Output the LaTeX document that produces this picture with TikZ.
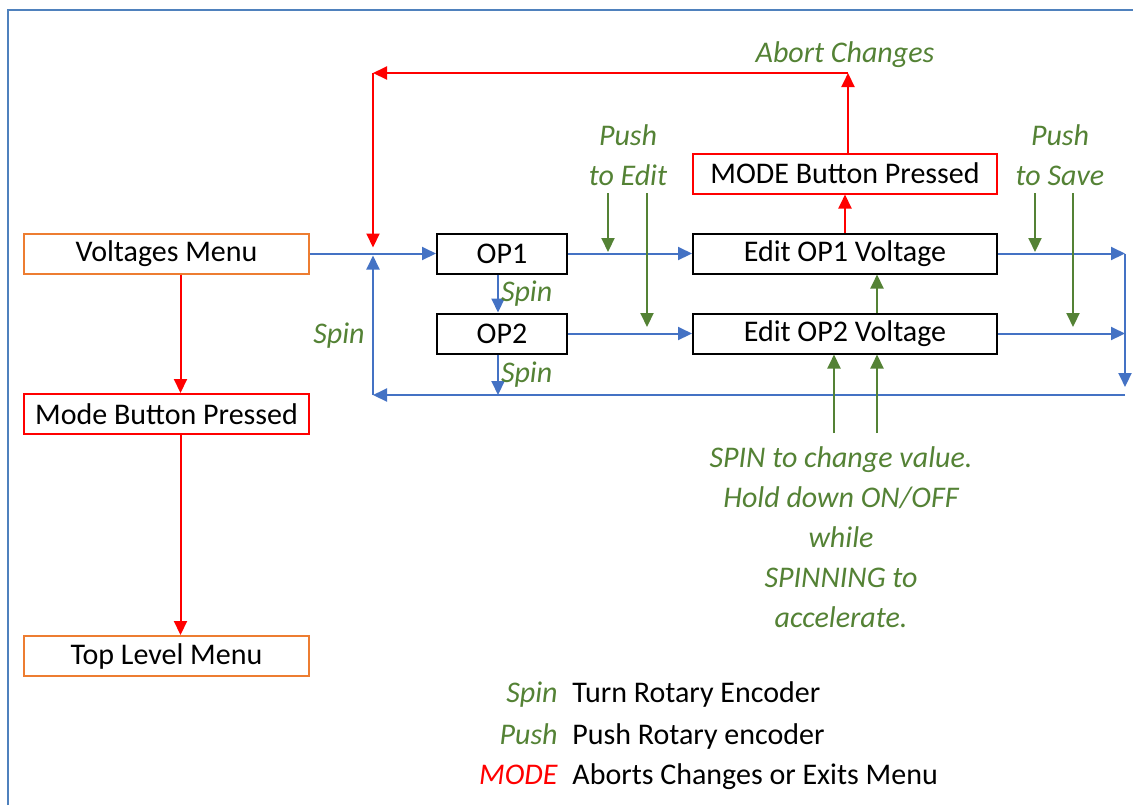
\documentclass[tikz,border=0pt]{standalone}
\usepackage{fontspec}
\setmainfont{Carlito}
\usepackage{tikz}
\usetikzlibrary{positioning,arrows.meta}
\usepackage{xcolor}
\definecolor{flowBlue}{HTML}{4472C4}
\definecolor{flowRed}{HTML}{FF0000}
\definecolor{flowOrange}{HTML}{ED7D31}
\definecolor{flowGreen}{HTML}{548235}
\definecolor{frameBlue}{HTML}{4F81BD}

\begin{document}
\begin{tikzpicture}[
    x=0.5pt, y=-0.5pt,
    every node/.style={font=\fontsize{15}{20}\selectfont},
    menuBox/.style={draw=flowOrange, line width=1pt, minimum width=142.5pt, minimum height=20pt, inner sep=0pt},
    modeBox/.style={menuBox, draw=flowRed},
    opBox/.style={draw=black, line width=1pt, minimum width=65pt, minimum height=20pt, inner sep=0pt},
    editBox/.style={opBox, minimum width=152pt},
    blueArrow/.style={-{Triangle[length=7pt, width=6.5pt]}, line width=1pt, draw=flowBlue},
    redArrow/.style={-{Triangle[length=7pt, width=6.5pt]}, line width=1pt, draw=flowRed},
    greenArrow/.style={-{Triangle[length=7pt, width=6.5pt]}, line width=1pt, draw=flowGreen},
    greenText/.style={text=flowGreen, font=\fontsize{15}{20}\selectfont\itshape, inner sep=0pt}
]
    \useasboundingbox (0,0) rectangle (1133,805);

    % Cornice
    \draw[line width=1pt, frameBlue] (8,805) -- (8,10) -- (1133,10);

    % Menu a sinistra
    \node[menuBox] (vmenu) at (166.5,253.5) {Voltages Menu};
    \node[modeBox] (modebtn) at (166.5,414) {Mode Button Pressed};
    \node[menuBox] (topmenu) at (166.5,656) {Top Level Menu};

    % Uscite
    \node[opBox] (op1) at (502,253.5) {OP1};
    \node[opBox] (op2) at (502,333.5) {OP2};

    % Modifica
    \node[editBox] (edit1) at (845,253.5) {Edit OP1 Voltage};
    \node[editBox] (edit2) at (845,333.5) {Edit OP2 Voltage};
    \node[modeBox, minimum width=152pt] (abortbox) at (845,173.5) {MODE Button Pressed};

    % Punti di svolta
    \coordinate (jTop) at (373,73);
    \coordinate (aTop) at (848,73);
    \coordinate (jIn) at (373,253.5);
    \coordinate (rTop) at (1125,253.5);
    \coordinate (rMid) at (1125,333.5);
    \coordinate (rBot) at (1125,395);
    \coordinate (lBot) at (373,395);

    % Frecce rosse
    \draw[redArrow] ([xshift=7pt]vmenu.south) -- ([xshift=7pt]modebtn.north);
    \draw[redArrow] ([xshift=7pt]modebtn.south) -- ([xshift=7pt]topmenu.north);
    \draw[redArrow] (edit1.north) -- (abortbox.south);
    \draw[redArrow] (abortbox.north -| aTop) -- (aTop);
    \draw[redArrow] (aTop) -- (jTop);
    \draw[redArrow] (jTop) -- ([yshift=3pt]jIn);
    \node[greenText] (abortlbl) at (845,55) {Abort Changes};

    % Frecce blu
    \draw[blueArrow] (vmenu) -- (op1);
    \draw[blueArrow] (op1) -- (edit1);
    \draw[blueArrow] (op2) -- (edit2);
    \draw[blueArrow] ([xshift=-2pt]op1.south) -- ([xshift=-2pt]op2.north)
        node[greenText, midway, right=1pt] {Spin};
    \draw[blueArrow] ([xshift=-2pt]op2.south) -- ([xshift=-2pt]op2.south |- lBot)
        node[greenText, pos=0.5, right=1pt] {Spin};
    \draw[blueArrow] (edit1.east) -- (rTop);
    \draw[blueArrow] (edit2.east) -- (rMid);
    \draw[blueArrow] (rTop) -- ([yshift=4pt]rBot);
    \draw[blueArrow] (rBot) -- (lBot);
    \draw[blueArrow] (lBot) -- ([yshift=-1pt]jIn);
    \node[greenText, left=4pt] (spinlbl) at (373,336) {Spin};

    % Push
    \node[greenText, align=center] (pushEdit) at (628,155) {Push\\to Edit};
    \node[greenText, align=center] (pushSave) at (1060,155) {Push\\to Save};
    \coordinate (pe1) at (608,193);
    \coordinate (pe2) at (647,193);
    \coordinate (ps1) at (1035,193);
    \coordinate (ps2) at (1073,193);
    \draw[greenArrow] (pe1) -- (608,252);
    \draw[greenArrow] (pe2) -- (647,327);
    \draw[greenArrow] (ps1) -- (1035,252);
    \draw[greenArrow] (ps2) -- (1073,327);

    % Spin per cambiare valore
    \node[greenText, align=center] (spinNote) at (841,537)
        {SPIN to change value.\\Hold down ON/OFF\\while\\SPINNING to\\accelerate.};
    \coordinate (sp1) at (834,433);
    \coordinate (sp2) at (877,433);
    \draw[greenArrow] (sp1) -- (sp1 |- edit2.south);
    \draw[greenArrow] (sp2) -- (sp2 |- edit2.south);
    \draw[greenArrow] ([xshift=16pt]edit2.north) -- ([xshift=16pt]edit1.south);

    % Legenda
    \node[greenText, anchor=base east] (lgSpin) at (558,702) {Spin};
    \node[greenText, anchor=base east] (lgPush) at (558,744) {Push};
    \node[greenText, anchor=base east, text=flowRed] (lgMode) at (558,784) {MODE};
    \node[anchor=base west, inner sep=0pt] (lgSpinTxt) at (572,702) {Turn Rotary Encoder};
    \node[anchor=base west, inner sep=0pt] (lgPushTxt) at (572,744) {Push Rotary encoder};
    \node[anchor=base west, inner sep=0pt] (lgModeTxt) at (572,784) {Aborts Changes or Exits Menu};
\end{tikzpicture}
\end{document}
